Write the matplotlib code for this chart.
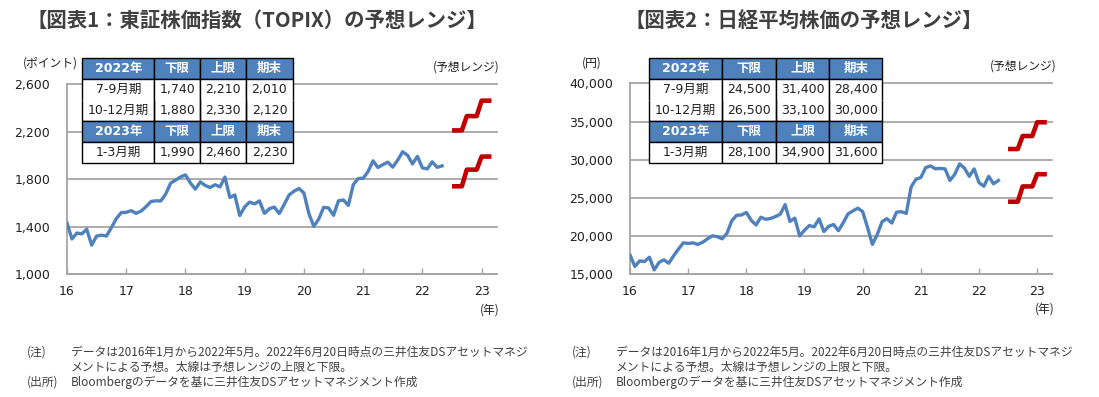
import numpy as np
import matplotlib
matplotlib.use('Agg')
import matplotlib.pyplot as plt

W, H = 1099, 397
JP = ['Noto Sans CJK JP', 'DejaVu Sans']
NUM = ['DejaVu Sans', 'Noto Sans CJK JP']
plt.rcParams['font.family'] = NUM

# ---------------- data ----------------
# monthly closes, Jan 2016 .. May 2022
topix = [1432, 1297, 1347, 1340, 1379, 1245, 1322, 1329, 1322, 1393, 1469, 1519,
         1521, 1535, 1513, 1531, 1568, 1612, 1618, 1617, 1675, 1766, 1792, 1818,
         1836, 1768, 1716, 1777, 1747, 1730, 1753, 1735, 1817, 1646, 1667, 1494,
         1567, 1607, 1592, 1617, 1512, 1551, 1565, 1511, 1587, 1667, 1699, 1721,
         1684, 1511, 1403, 1464, 1563, 1558, 1496, 1618, 1625, 1579, 1754, 1805,
         1808, 1864, 1954, 1898, 1922, 1943, 1901, 1960, 2030, 2001, 1928, 1992,
         1895, 1886, 1946, 1899, 1912]
nikkei = [17518, 16027, 16759, 16666, 17235, 15576, 16569, 16887, 16450, 17425, 18308, 19114,
          19041, 19119, 18909, 19197, 19651, 20033, 19925, 19646, 20356, 22012, 22725, 22765,
          23098, 22068, 21454, 22468, 22202, 22305, 22554, 22865, 24120, 21920, 22351, 20015,
          20773, 21385, 21206, 22259, 20601, 21276, 21522, 20704, 21756, 22927, 23294, 23657,
          23205, 21143, 18917, 20194, 21878, 22288, 21710, 23140, 23185, 22977, 26434, 27444,
          27663, 28966, 29179, 28813, 28860, 28792, 27284, 28090, 29453, 28893, 27822, 28792,
          27002, 26527, 27821, 26848, 27280]

quarters = ['7-9月期', '10-12月期', '1-3月期']
topix_low = [1740, 1880, 1990]
topix_high = [2210, 2330, 2460]
topix_end = [2010, 2120, 2230]
nikkei_low = [24500, 26500, 28100]
nikkei_high = [31400, 33100, 34900]
nikkei_end = [28400, 30000, 31600]

topix_ticks = [1000, 1400, 1800, 2200, 2600]
nikkei_ticks = [15000, 20000, 25000, 30000, 35000, 40000]
year_ticks = [16, 17, 18, 19, 20, 21, 22, 23]

# x positions (year fraction): history Jan16.., forecast Jul22..Mar23
hist_x = 16 + np.arange(len(topix)) / 12.0
fc_x = 22.5 + np.arange(3 * len(quarters)) / 12.0

BLUE = '#4F81BD'
RED = '#C00000'
GRID = '#A6A6A6'
TXT = '#404040'

fig = plt.figure(figsize=(W / 100, H / 100), dpi=100)


def px_rect(x0, y0, x1, y1):
    return [x0 / W, 1 - y1 / H, (x1 - x0) / W, (y1 - y0) / H]


def fmt(v):
    return f'{v:,}'


def draw_chart(rect, series, low, high, ticks, xmax):
    ax = fig.add_axes(rect)
    ax.plot(hist_x, series, color=BLUE, lw=2.4, solid_joinstyle='round', zorder=3)
    ax.plot(fc_x, np.repeat(low, 3), color=RED, lw=3.3, solid_capstyle='butt', zorder=3)
    ax.plot(fc_x, np.repeat(high, 3), color=RED, lw=3.3, solid_capstyle='butt', zorder=3)
    ax.set_xlim(16, xmax)
    ax.set_ylim(ticks[0], ticks[-1])
    ax.set_yticks(ticks)
    ax.set_yticklabels([fmt(t) for t in ticks])
    ax.set_xticks(year_ticks)
    ax.set_xticklabels([str(t) for t in year_ticks])
    ax.grid(axis='y', color=GRID, lw=1.3)
    ax.set_axisbelow(True)
    for gl in ax.get_ygridlines():
        gl.set_clip_on(False)
    for s in ['top', 'right']:
        ax.spines[s].set_visible(False)
    for s in ['left', 'bottom']:
        ax.spines[s].set_color(GRID)
        ax.spines[s].set_linewidth(1.3)
    ax.tick_params(axis='y', length=0, pad=12, labelsize=9, labelcolor='#202020')
    ax.tick_params(axis='x', direction='in', length=4.5, width=1, color=GRID,
                   pad=8, labelsize=9, labelcolor='#202020')
    return ax


def draw_table(rect, colw, low, high, end):
    ax = fig.add_axes(rect)
    ax.axis('off')
    rows = [['2022年', '下限', '上限', '期末'],
            [quarters[0], fmt(low[0]), fmt(high[0]), fmt(end[0])],
            [quarters[1], fmt(low[1]), fmt(high[1]), fmt(end[1])],
            ['2023年', '下限', '上限', '期末'],
            [quarters[2], fmt(low[2]), fmt(high[2]), fmt(end[2])]]
    tot = sum(colw)
    tbl = ax.table(cellText=rows, colWidths=[c / tot for c in colw],
                   bbox=[0, 0, 1, 1], cellLoc='center')
    tbl.auto_set_font_size(False)
    for (r, c), cell in tbl.get_celld().items():
        cell.set_edgecolor('#000000')
        cell.set_linewidth(1.0)
        t = cell.get_text()
        t.set_fontfamily(NUM)
        t.set_fontsize(9)
        if r in (0, 3):
            cell.set_facecolor(BLUE)
            t.set_color('white')
            t.set_fontweight('bold')
        else:
            cell.set_facecolor('white')
            t.set_color('#202020')
        if r == 1:
            cell.visible_edges = 'LRT'
        elif r == 2:
            cell.visible_edges = 'LRB'
    return ax


# ---------------- left chart ----------------
draw_chart(px_rect(67, 84, 497, 274.3), topix, topix_low, topix_high, topix_ticks, 23.26)
draw_table(px_rect(82.3, 58.3, 292.7, 163.3), [72, 46, 46, 46.4], topix_low, topix_high, topix_end)

# ---------------- right chart ----------------
draw_chart(px_rect(630, 83.3, 1051.7, 274.3), nikkei, nikkei_low, nikkei_high, nikkei_ticks, 23.25)
draw_table(px_rect(649.3, 58.3, 882.3, 163.3), [72.4, 54, 53.6, 53], nikkei_low, nikkei_high, nikkei_end)


def ftext(x, y, s, **kw):
    kw.setdefault('family', JP)
    kw.setdefault('color', TXT)
    fig.text(x / W, 1 - y / H, s, **kw)


# titles
ftext(257, 20, '【図表1：東証株価指数（TOPIX）の予想レンジ】', fontsize=14.7, weight='bold',
      ha='center', va='center')
ftext(804, 20, '【図表2：日経平均株価の予想レンジ】', fontsize=14.7, weight='bold',
      ha='center', va='center')

# unit labels
ftext(23, 63, '(ポイント)', fontsize=8.5, ha='left', va='center', color='#202020')
ftext(582, 63, '(円)', fontsize=8.5, ha='left', va='center', color='#202020')
ftext(500, 67, '(予想レンジ)', fontsize=8.5, ha='right', va='center', color='#202020')
ftext(1057, 66, '(予想レンジ)', fontsize=8.5, ha='right', va='center', color='#202020')
ftext(490, 310, '(年)', fontsize=8.5, ha='center', va='center', color='#202020')
ftext(1045, 309, '(年)', fontsize=8.5, ha='center', va='center', color='#202020')

# notes
note1 = 'データは2016年1月から2022年5月。2022年6月20日時点の三井住友DSアセットマネジ'
note2 = 'メントによる予想。太線は予想レンジの上限と下限。'
note3 = 'Bloombergのデータを基に三井住友DSアセットマネジメント作成'
for x0, x1 in [(27, 71), (572, 616)]:
    ftext(x0, 352, '(注)', fontsize=8.5, ha='left', va='center')
    ftext(x1, 352, note1, fontsize=8.5, ha='left', va='center')
    ftext(x1, 367, note2, fontsize=8.5, ha='left', va='center')
    ftext(x0, 382, '(出所)', fontsize=8.5, ha='left', va='center')
    ftext(x1, 382, note3, fontsize=8.5, ha='left', va='center')

fig.savefig('out.png', dpi=100, facecolor='white')
